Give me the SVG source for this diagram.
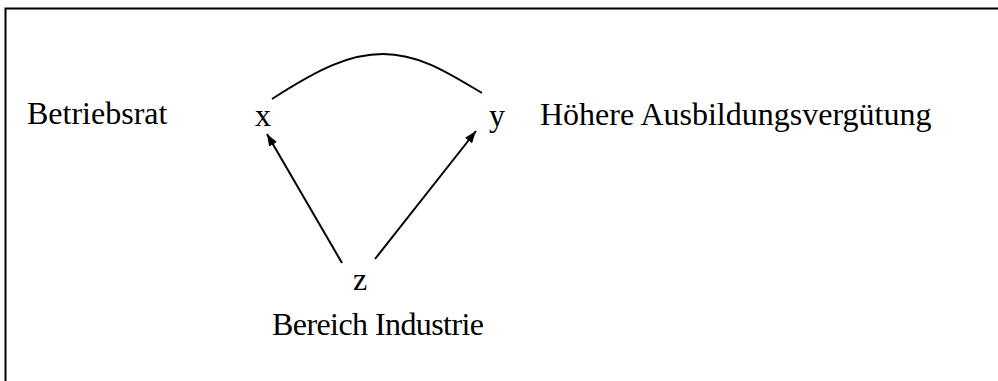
<svg xmlns="http://www.w3.org/2000/svg" width="998" height="381" viewBox="0 0 998 381">
<style>
text{font-family:"Liberation Serif","Times New Roman",serif;font-size:32px;fill:#000}
.ln{fill:none;stroke:#000;stroke-width:2}
</style>
<defs>
<marker id="ah" viewBox="0 0 12 9" refX="12" refY="4.5" markerWidth="12" markerHeight="9" markerUnits="userSpaceOnUse" orient="auto">
<path d="M0,0 L12,4.5 L0,9 Z" fill="#000"/>
</marker>
</defs>
<rect x="5.5" y="8.5" width="1000" height="380" fill="#fff" stroke="#000" stroke-width="2"/>
<g id="x"><text x="255" y="126">x</text><text x="27" y="124">Betriebsrat</text></g>
<g id="y"><text x="489" y="126">y</text><text x="540" y="125">Höhere Ausbildungsvergütung</text></g>
<g id="z"><text x="353" y="290">z</text><text x="272" y="335" textLength="212">Bereich Industrie</text></g>
<g id="connectors">
<path class="ln" d="M272,99 C320,68 350,54 383,54 C420,54 450,74 482,93"/>
<line class="ln" x1="342" y1="263" x2="267" y2="134" marker-end="url(#ah)"/>
<line class="ln" x1="375" y1="259" x2="476" y2="131" marker-end="url(#ah)"/>
</g>
</svg>
